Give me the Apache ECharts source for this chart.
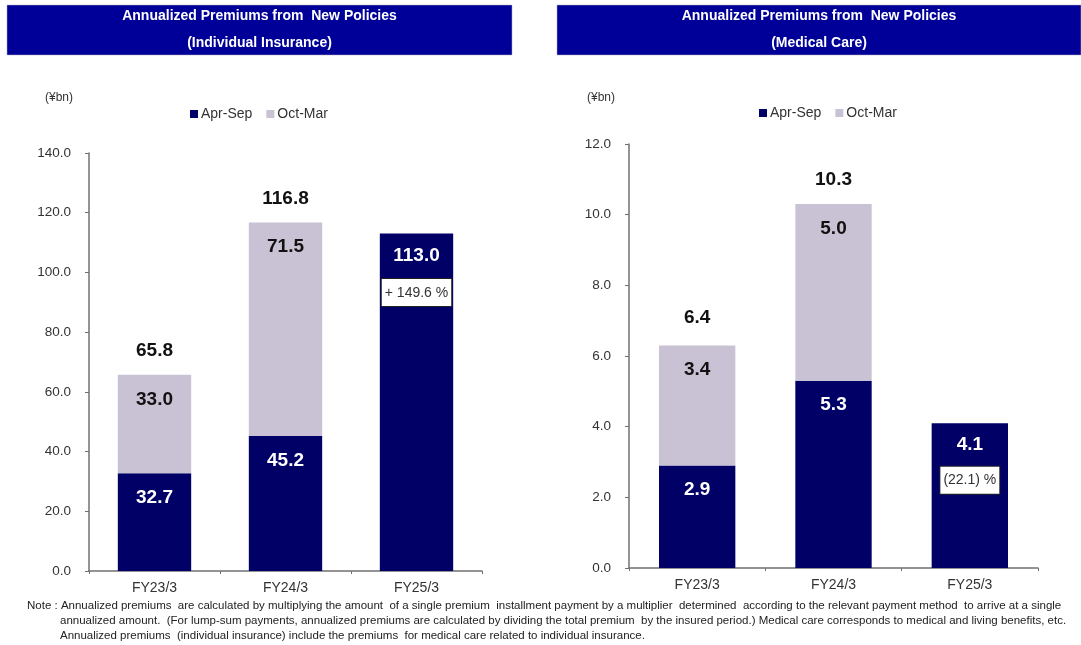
<!DOCTYPE html>
<html>
<head>
<meta charset="utf-8">
<script src="https://cdn.jsdelivr.net/npm/echarts@6/dist/echarts.min.js"></script>
<style>html,body{margin:0;padding:0;background:#fff}#c{width:1081px;height:645px}</style>
</head>
<body>
<div id="c"></div>
<script>
const categories = ['FY23/3', 'FY24/3', 'FY25/3'];
const seriesNames = ['Apr-Sep', 'Oct-Mar'];
// Individual insurance (¥bn)
const indAprSep = [32.7, 45.2, 113.0];
const indOctMar = [33.0, 71.5, null];
const indTotal = [65.8, 116.8, null];
const indChange = [null, null, '+ 149.6 %'];
// Medical care (¥bn)
const medAprSep = [2.9, 5.3, 4.1];
const medOctMar = [3.4, 5.0, null];
const medTotal = [6.4, 10.3, null];
const medChange = [null, null, '(22.1) %'];
const titles = [
  ['Annualized Premiums from  New Policies', '(Individual Insurance)'],
  ['Annualized Premiums from  New Policies', '(Medical Care)']
];
const noteLines = [
  'Note : Annualized premiums  are calculated by multiplying the amount  of a single premium  installment payment by a multiplier  determined  according to the relevant payment method  to arrive at a single',
  'annualized amount.  (For lump-sum payments, annualized premiums are calculated by dividing the total premium  by the insured period.) Medical care corresponds to medical and living benefits, etc.',
  'Annualized premiums  (individual insurance) include the premiums  for medical care related to individual insurance.'
];

const NAVY = '#000066', GREY = '#C9C2D4', BANNER = '#000099';
const FONT = '"Liberation Sans", Arial, sans-serif';

const chart = echarts.init(document.getElementById('c'));

function aprData(vals, changes, distBox) {
  return vals.map((v, i) => {
    if (changes[i]) {
      return {
        value: v,
        label: {
          distance: 9,
          formatter: '{v|' + v.toFixed(1) + '}\n{sp|}\n{box|' + changes[i] + '}',
          rich: {
            v: { fontSize: 19, fontWeight: 'bold', color: '#fff', fontFamily: FONT, lineHeight: 26 },
            sp: { lineHeight: distBox },
            box: { fontSize: 14, fontWeight: 'normal', color: '#333', fontFamily: FONT, backgroundColor: '#fff',
                   borderColor: '#222', borderWidth: 1, padding: [7, 3, 6, 3], lineHeight: 16 }
          }
        }
      };
    }
    return v;
  });
}

function barSeries(name, data, xi, color, labelColor) {
  return {
    name: name, type: 'bar', stack: 's' + xi, xAxisIndex: xi, yAxisIndex: xi,
    data: data, barWidth: '56%', itemStyle: { color: color },
    label: { show: true, position: 'insideTop', distance: 15, fontSize: 19, fontWeight: 'bold',
             color: labelColor, fontFamily: FONT,
             formatter: p => (p.value == null ? '' : Number(p.value).toFixed(1)) }
  };
}

function totalSeries(data, xi) {
  return {
    name: 'Total', type: 'line', xAxisIndex: xi, yAxisIndex: xi, data: data,
    symbol: 'circle', symbolSize: 1, itemStyle: { color: 'rgba(0,0,0,0)' },
    lineStyle: { opacity: 0 }, silent: true, z: 5,
    label: { show: true, position: 'top', distance: 14, fontSize: 19, fontWeight: 'bold',
             color: '#111', fontFamily: FONT, formatter: p => Number(p.value).toFixed(1) }
  };
}

function xAx(gi) {
  return {
    type: 'category', gridIndex: gi, data: categories,
    axisLine: { lineStyle: { color: '#707070', width: 1.5 } },
    axisTick: { show: true, length: 3, lineStyle: { color: '#707070' } },
    axisLabel: { fontSize: 14, color: '#333', fontFamily: FONT, margin: 10 },
    splitLine: { show: false }
  };
}
function yAx(gi, max, interval) {
  return {
    type: 'value', gridIndex: gi, min: 0, max: max, interval: interval,
    axisLine: { show: true, lineStyle: { color: '#707070', width: 1.5 } },
    axisTick: { show: true, length: 4, lineStyle: { color: '#707070' } },
    axisLabel: { fontSize: 13.5, color: '#333', fontFamily: FONT, margin: 18,
                 formatter: v => v.toFixed(1) },
    splitLine: { show: false }
  };
}

const graphics = [];
[[7, 505], [557, 524]].forEach((b, i) => {
  graphics.push({ type: 'rect', shape: { x: b[0], y: 5, width: b[1], height: 50 },
                  style: { fill: BANNER, stroke: '#aab', lineWidth: 0.5 } });
  graphics.push({ type: 'text', x: b[0] + b[1] / 2, y: 16,
                  style: { text: titles[i][0], fill: '#fff', font: 'bold 14px ' + FONT, align: 'center', verticalAlign: 'middle' } });
  graphics.push({ type: 'text', x: b[0] + b[1] / 2, y: 43,
                  style: { text: titles[i][1], fill: '#fff', font: 'bold 14px ' + FONT, align: 'center', verticalAlign: 'middle' } });
});
graphics.push({ type: 'text', x: 45, y: 98, style: { text: '(¥bn)', fill: '#333', font: '12px ' + FONT, verticalAlign: 'middle' } });
graphics.push({ type: 'text', x: 587, y: 98, style: { text: '(¥bn)', fill: '#333', font: '12px ' + FONT, verticalAlign: 'middle' } });
noteLines.forEach((t, i) => {
  graphics.push({ type: 'text', x: i === 0 ? 27 : 60, y: 606 + i * 15,
                  style: { text: t, fill: '#222', font: '11.5px ' + FONT, verticalAlign: 'middle' } });
});

const legendCommon = {
  data: seriesNames, itemWidth: 8, itemHeight: 8, itemGap: 14, icon: 'rect',
  textStyle: { fontSize: 14, color: '#333', fontFamily: FONT, padding: [0, 0, 0, -2] }
};

chart.setOption({
  animation: false,
  backgroundColor: '#fff',
  grid: [
    { left: 89, top: 153, width: 393, height: 418 },
    { left: 629, top: 144, width: 409, height: 424 }
  ],
  legend: [
    Object.assign({ left: 185, top: 102 }, legendCommon),
    Object.assign({ left: 754, top: 101 }, legendCommon)
  ],
  xAxis: [xAx(0), xAx(1)],
  yAxis: [yAx(0, 140, 20), yAx(1, 12, 2)],
  series: [
    barSeries('Apr-Sep', aprData(indAprSep, indChange, 16), 0, NAVY, '#fff'),
    barSeries('Oct-Mar', indOctMar, 0, GREY, '#111'),
    totalSeries(indTotal, 0),
    barSeries('Apr-Sep', aprData(medAprSep, medChange, 14), 1, NAVY, '#fff'),
    barSeries('Oct-Mar', medOctMar, 1, GREY, '#111'),
    totalSeries(medTotal, 1)
  ],
  graphic: graphics
});
</script>
</body>
</html>
